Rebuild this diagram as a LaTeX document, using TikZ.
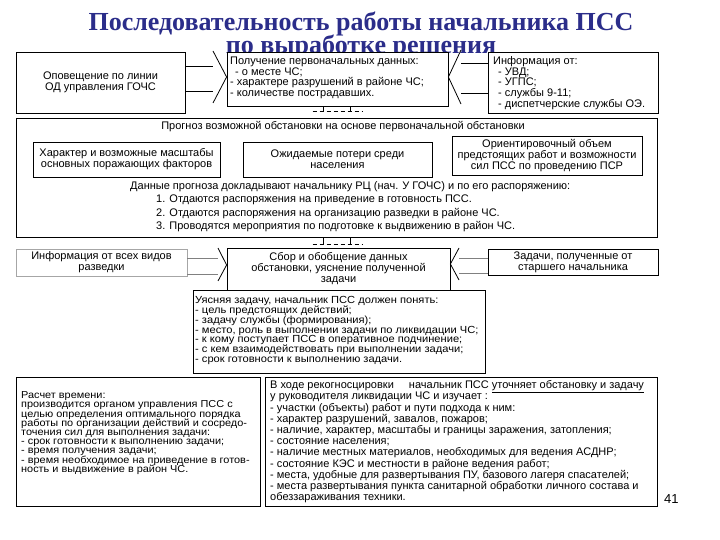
\documentclass[tikz,border=0pt]{standalone}
\usepackage{fontspec}
\setmainfont{Liberation Sans}
\newfontfamily\titlefont{Liberation Serif}
\newfontfamily\widefont[FakeStretch=1.08]{Liberation Sans}
\definecolor{ttl}{RGB}{43,45,138}
\lineskiplimit=-30pt
\newcommand\mkbox[7][]{\node[bx,#1,minimum width={(#5-#3)*1pt},minimum height={(#6-#4)*1pt}] (#2) at ({(#3+#5)/2},{(#4+#6)/2}) {#7};}
\begin{document}
\begin{tikzpicture}[x=1pt,y=-1pt]
\tikzset{
  bx/.style={draw=black, line width=0.8pt, fill=white, inner sep=0pt, align=center, font=\fontsize{11}{11}\selectfont},
  conn/.style={draw=black, line width=0.8pt},
  lt/.style={inner sep=0pt, anchor=north west, align=left},
  f11/.style={font=\fontsize{11}{10.6}\selectfont},
  ttlstyle/.style={font=\titlefont\bfseries\fontsize{26}{26}\selectfont, text=ttl, anchor=base, inner sep=0pt},
}
\useasboundingbox (0,0) rectangle (720,540);
\fill[white] (0,0) rectangle (720,540);
% title
\node[ttlstyle] (t1) at (361,31) {Последовательность работы начальника ПСС};
\node[ttlstyle] (t2) at (361,53.5) {по выработке решения};
% boxes of the top row
\mkbox{A}{16}{52}{185}{113}{Оповещение по линии\\ОД управления ГОЧС}
\mkbox{B}{227}{52}{448}{106}{}
\mkbox{C}{488}{52}{658}{113}{}
% arrow A -> B
\draw[conn] (A.east |- 0,66) -- (213,66);
\draw[conn] (A.east |- 0,91) -- (213,91);
\draw[conn] (213,51) -- (B.west |- 0,77) -- (213,103);
% arrow C -> B
\draw[conn] (C.west |- 0,63) -- (461,63);
\draw[conn] (C.west |- 0,93) -- (461,93);
\draw[conn] (461,50) -- (B.east |- 0,77) -- (461,104);
\node[lt,f11] (Bt) at (230,55.7) {\rule{0pt}{8.8pt}Получение первоначальных данных:\\\hspace{5pt}- о месте ЧС;\\- характере разрушений в районе ЧС;\\- количестве пострадавших.};
\node[lt,f11] (Ct) at (493,55.7) {\rule{0pt}{8.8pt}Информация от:\\\hspace{5pt}- УВД;\\\hspace{5pt}- УГПС;\\\hspace{5pt}- службы 9-11;\\\hspace{5pt}- диспетчерские службы ОЭ.};
% forecast box
\mkbox{F}{16}{118}{657}{237}{}
\draw[conn] ([xshift=-14pt]B.south) -- ++(0,5);
\draw[conn] ([xshift=13pt]B.south) -- ++(0,5);
\draw[conn, dashed, dash pattern=on 4pt off 3pt] ([xshift=-25pt,yshift=-5pt]B.south) -- ([xshift=25pt,yshift=-5pt]B.south);
\node[f11, anchor=base, inner sep=0pt] (Ft) at (343,129.5) {Прогноз возможной обстановки на основе первоначальной обстановки};
\mkbox{F1}{33}{142}{220}{177}{Характер и возможные масштабы\\основных поражающих факторов}
\mkbox{F2}{243}{142}{432}{177}{Ожидаемые потери среди\\населения}
\mkbox{F3}{452}{136}{642}{175}{Ориентировочный объем\\предстоящих работ и возможности\\сил ПСС по проведению ПСР}
\node[f11, anchor=base west, inner sep=0pt] (Fd) at (130,189.5) {Данные прогноза докладывают начальнику РЦ (нач. У ГОЧС) и по его распоряжению:};
\node[lt, font=\fontsize{11}{13.3}\selectfont] (Fl) at (156,194) {\rule{0pt}{8.8pt}1. Отдаются распоряжения на приведение в готовность ПСС.\\2. Отдаются распоряжения на организацию разведки в районе ЧС.\\3. Проводятся мероприятия по подготовке к выдвижению в район ЧС.};
% second row
\mkbox[draw=gray!70]{G}{16}{249}{187}{276}{Информация от всех видов\\разведки}
\mkbox{H}{227}{248}{450}{290}{Сбор и обобщение данных\\обстановки, уяснение полученной\\задачи}
\mkbox{I}{488}{249}{658}{275}{Задачи, полученные от\\старшего начальника}
\draw[conn] ([xshift=-14pt]F.south -| B.south) -- ++(0,7);
\draw[conn] ([xshift=13pt]F.south -| B.south) -- ++(0,7);
\draw[conn, dashed, dash pattern=on 4pt off 3pt] ([xshift=-25pt,yshift=-7pt]F.south -| B.south) -- ([xshift=25pt,yshift=-7pt]F.south -| B.south);
% arrow G -> H
\draw[conn, draw=gray] (G.east |- 0,258) -- (218,258);
\draw[conn, draw=gray] (G.east |- 0,274) -- (218,274);
\draw[conn] (218,248) -- (H.west |- 0,265) -- (218,281);
% arrow I -> H
\draw[conn, draw=gray] (I.west |- 0,258) -- (459,258);
\draw[conn, draw=gray] (I.west |- 0,273) -- (459,273);
\draw[conn] (459,248) -- (H.east |- 0,264) -- (459,280);
% task box
\mkbox{T}{193}{290}{485}{373}{}
\node[lt, font=\widefont\fontsize{10.3}{9.8}\selectfont] (Tt) at (195,295.3) {\rule{0pt}{8.2pt}Уясняя задачу, начальник ПСС должен понять:\\- цель предстоящих действий;\\- задачу службы (формирования);\\- место, роль в выполнении задачи по ликвидации ЧС;\\- к кому поступает ПСС в оперативное подчинение;\\- с кем взаимодействовать при выполнении задачи;\\- срок готовности к выполнению задачи.};
% bottom boxes
\mkbox{J}{16}{377}{260}{506}{}
\node[lt, font=\widefont\fontsize{10.1}{9.2}\selectfont] (Jt) at (21,390.4) {\rule{0pt}{8.1pt}Расчет времени:\\производится органом управления ПСС с\\целью определения оптимального порядка\\работы по организации действий и сосредо-\\точения сил для выполнения задачи:\\- срок готовности к выполнению задачи;\\- время получения задачи;\\- время необходимое на приведение в готов-\\ность и выдвижение в район ЧС.};
\mkbox{K}{265}{377}{657}{506}{}
\node[lt, font=\fontsize{11}{11.2}\selectfont] (Kt) at (270,379.7) {\rule{0pt}{8.8pt}В ходе рекогносцировки\hspace{12pt} начальник ПСС \underline{уточняет обстановку и задачу}\\у руководителя ликвидации ЧС и изучает :\\- участки (объекты) работ и пути подхода к ним:\\- характер разрушений, завалов, пожаров;\\- наличие, характер, масштабы и границы заражения, затопления;\\- состояние населения;\\- наличие местных материалов, необходимых для ведения АСДНР;\\- состояние КЭС и местности в районе ведения работ;\\- места, удобные для развертывания ПУ, базового лагеря спасателей;\\- места развертывания пункта санитарной обработки личного состава и\\обеззараживания техники.};
\node[anchor=base west, inner sep=0pt, font=\fontsize{13}{13}\selectfont] (num) at (664,503) {41};
\end{tikzpicture}
\end{document}
